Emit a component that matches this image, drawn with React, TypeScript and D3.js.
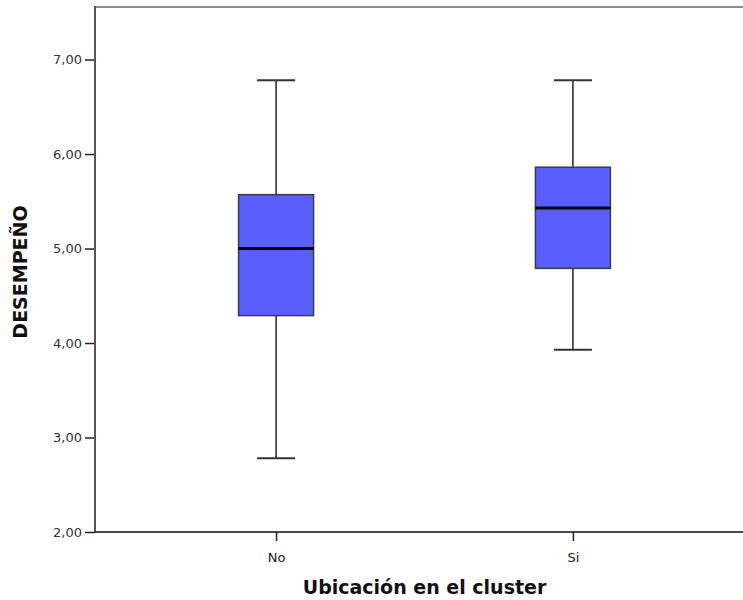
import React, { useRef, useEffect } from "react";
import * as d3 from "d3";

// groups on the x axis
const categories = ["No", "Si"];
// five-number summaries
const whiskerLow = [2.78, 3.93];
const q1 = [4.29, 4.79];
const median = [5.0, 5.43];
const q3 = [5.57, 5.86];
const whiskerHigh = [6.78, 6.78];
const yTicks = [2, 3, 4, 5, 6, 7];

const App = () => {
  const svgRef = useRef<SVGSVGElement>(null);

  useEffect(() => {
    const width = 743;
    const height = 600;
    const left = 95;
    const right = 754;
    const top = 7;
    const bottom = 532;

    const svg = d3.select(svgRef.current);
    svg.selectAll("*").remove();
    svg.attr("width", width).attr("height", height);

    const x = d3.scalePoint().domain(categories).range([left, right]).padding(0.61);
    const y = d3.scaleLinear().domain([2, 7.556]).range([bottom, top]);

    const boxW = 75;
    const capW = 38;
    const data = categories.map((c, i) => ({
      c,
      lo: whiskerLow[i],
      q1: q1[i],
      med: median[i],
      q3: q3[i],
      hi: whiskerHigh[i],
    }));

    // frame top line
    svg
      .append("line")
      .attr("x1", left)
      .attr("x2", width)
      .attr("y1", top)
      .attr("y2", top)
      .attr("stroke", "#8a8a8a")
      .attr("stroke-width", 2);

    const g = svg.selectAll("g.box").data(data).enter().append("g").attr("class", "box");
    const cx = (d: any) => x(d.c) as number;

    // whiskers
    g.append("line")
      .attr("x1", cx)
      .attr("x2", cx)
      .attr("y1", (d) => y(d.hi))
      .attr("y2", (d) => y(d.q3))
      .attr("stroke", "#000")
      .attr("stroke-width", 1.3);
    g.append("line")
      .attr("x1", cx)
      .attr("x2", cx)
      .attr("y1", (d) => y(d.q1))
      .attr("y2", (d) => y(d.lo))
      .attr("stroke", "#000")
      .attr("stroke-width", 1.3);
    // caps
    ["hi", "lo"].forEach((k) => {
      g.append("line")
        .attr("x1", (d) => cx(d) - capW / 2)
        .attr("x2", (d) => cx(d) + capW / 2)
        .attr("y1", (d: any) => y(d[k]))
        .attr("y2", (d: any) => y(d[k]))
        .attr("stroke", "#333")
        .attr("stroke-width", 2);
    });
    // box
    g.append("rect")
      .attr("x", (d) => cx(d) - boxW / 2)
      .attr("width", boxW)
      .attr("y", (d) => y(d.q3))
      .attr("height", (d) => y(d.q1) - y(d.q3))
      .attr("fill", "#5a5eff")
      .attr("stroke", "#3c3c3c")
      .attr("stroke-width", 1.5);
    // median
    g.append("line")
      .attr("x1", (d) => cx(d) - boxW / 2)
      .attr("x2", (d) => cx(d) + boxW / 2)
      .attr("y1", (d) => y(d.med))
      .attr("y2", (d) => y(d.med))
      .attr("stroke", "#000")
      .attr("stroke-width", 3);

    // y axis
    const yAxis = svg
      .append("g")
      .attr("transform", `translate(${left},0)`)
      .call(
        d3
          .axisLeft(y)
          .tickValues(yTicks)
          .tickSize(10)
          .tickPadding(3)
          .tickFormat((d) => d3.format(".2f")(d as number).replace(".", ","))
      );
    yAxis.select(".domain").remove();
    yAxis.selectAll(".tick line").attr("stroke", "#222").attr("stroke-width", 1.5);
    yAxis
      .selectAll(".tick text")
      .attr("font-family", "DejaVu Sans")
      .attr("font-size", 13)
      .attr("fill", "#333");
    svg
      .append("line")
      .attr("x1", left)
      .attr("x2", left)
      .attr("y1", top - 1)
      .attr("y2", bottom)
      .attr("stroke", "#555")
      .attr("stroke-width", 2);

    // x axis
    const xAxis = svg
      .append("g")
      .attr("transform", `translate(0,${bottom})`)
      .call(d3.axisBottom(x).tickSize(9).tickPadding(12));
    xAxis.select(".domain").remove();
    xAxis.selectAll(".tick line").attr("stroke", "#222").attr("stroke-width", 1.5);
    xAxis
      .selectAll(".tick text")
      .attr("font-family", "DejaVu Sans")
      .attr("font-size", 13)
      .attr("fill", "#222");
    svg
      .append("line")
      .attr("x1", left)
      .attr("x2", width)
      .attr("y1", bottom)
      .attr("y2", bottom)
      .attr("stroke", "#111")
      .attr("stroke-width", 1.6);

    // axis titles
    svg
      .append("text")
      .attr("x", (left + right) / 2)
      .attr("y", 594)
      .attr("text-anchor", "middle")
      .attr("font-family", "DejaVu Sans")
      .attr("font-weight", "bold")
      .attr("font-size", 19)
      .attr("fill", "#111")
      .text("Ubicación en el cluster");
    svg
      .append("text")
      .attr("transform", `translate(27,272) rotate(-90)`)
      .attr("text-anchor", "middle")
      .attr("font-family", "DejaVu Sans")
      .attr("font-weight", "bold")
      .attr("font-size", 19)
      .attr("fill", "#111")
      .text("DESEMPEÑO");
  }, []);

  return (
    <svg ref={svgRef} style={{ position: "absolute", left: 0, top: 0, background: "#fff" }}></svg>
  );
};

export default App;
